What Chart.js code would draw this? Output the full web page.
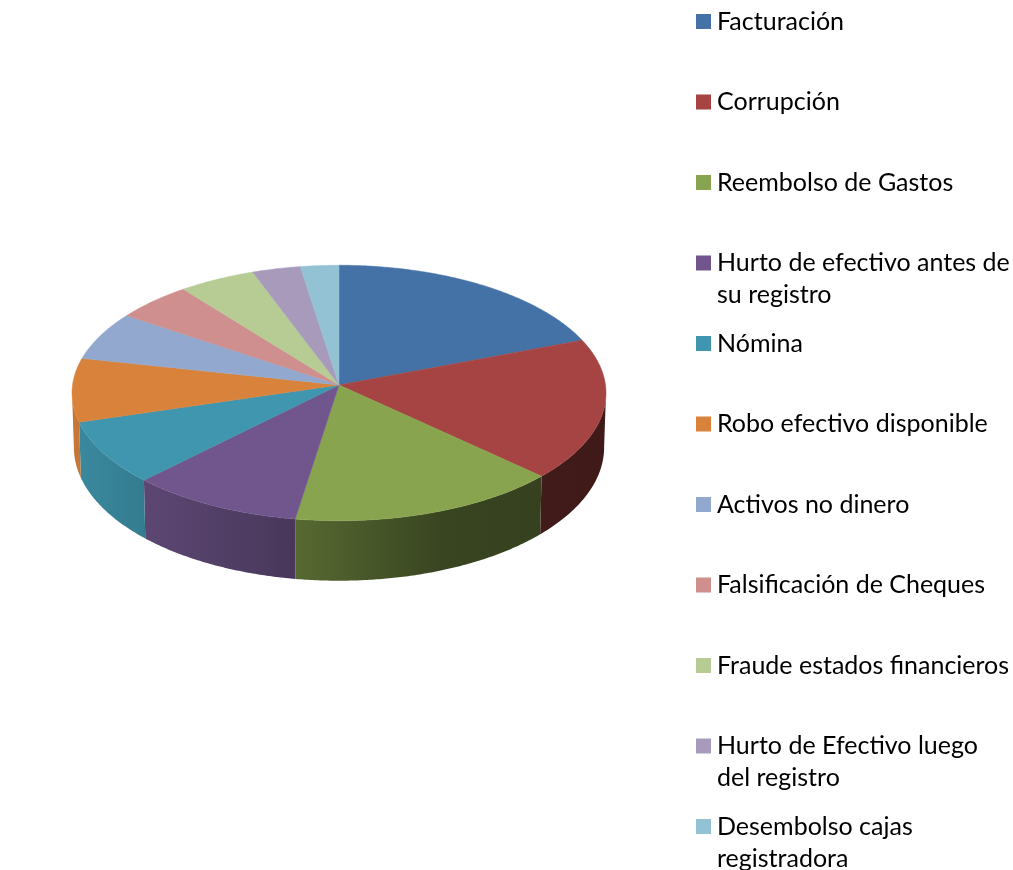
<!DOCTYPE html>
<html>
<head>
<meta charset="utf-8">
<script src="https://cdn.jsdelivr.net/npm/chart.js@4"></script>
<style>
    html, body { margin: 0; padding: 0; background: #fff; }
    canvas { display: block; }
</style>
</head>
<body>
<canvas id="pie-chart" width="1013" height="870"></canvas>
<script>
const categories = ["Facturación", "Corrupción", "Reembolso de Gastos", "Hurto de efectivo antes de su registro", "Nómina",
    "Robo efectivo disponible", "Activos no dinero", "Falsificación de Cheques", "Fraude estados financieros",
    "Hurto de Efectivo luego del registro", "Desembolso cajas registradora"];
const values = [38.8, 36.3, 31.3, 20, 16.3, 16.3, 12.5, 10, 10, 6.3, 5];
const valueLabels = ["38.80%", "36.30%", "31.30%", "20.00%", "16.30%", "16.30%", "12.50%", "10%", "10%", "6.30%", "5%"];
const colors = ["#4472a6", "#a54442", "#88a44e", "#70568c", "#4096ae", "#d8823c", "#92a8ce", "#ce8f8e", "#b7cc94", "#a89aba", "#92c2d3"];

// where excel left each label (centre of the text)
const labelSpots = [[439, 310], [547, 402], [404, 486], [243, 479], [127, 389], [153, 437], [51, 312], [126, 276], [194, 254], [262, 234], [319, 240]];

const FONT = '25px Lato';
const SQUASH = 127.5 / 267;   // tilt of the pie
const PERSP = 0.0625;         // near edge is drawn bigger than far edge

function project(el, a) {
    const u = Math.cos(a), v = Math.sin(a);
    const d = 1 - PERSP * v;
    const r = el.outerRadius * 0.998;
    return { x: el.x + r * u / d, y: el.y + r * SQUASH * v / d, v: v };
}

function shade(hex, f) {
    const n = parseInt(hex.slice(1), 16);
    const c = [n >> 16, (n >> 8) & 255, n & 255].map(x => Math.round(x * f));
    return `rgb(${c[0]},${c[1]},${c[2]})`;
}

// side wall gets darker from left to right across the whole pie
function wallGradient(ctx, el, hex) {
    const left = el.x - el.outerRadius, w = el.outerRadius * 2;
    const g = ctx.createLinearGradient(left, 0, left + w, 0);
    g.addColorStop(0, shade(hex, 0.92));
    g.addColorStop(0.135, shade(hex, 0.82));
    g.addColorStop(0.42, shade(hex, 0.64));
    g.addColorStop(0.69, shade(hex, 0.42));
    g.addColorStop(1, shade(hex, 0.38));
    return g;
}

const pie3d = {
    id: 'pie3d',
    beforeDatasetsDraw(chart) {
        const ctx = chart.ctx;
        const arcs = chart.getDatasetMeta(0).data;
        const widest = Math.asin(PERSP);
        const step = Math.PI / 360;

        arcs.forEach((el) => {
            const from = Math.max(el.startAngle, widest);
            const to = Math.min(el.endAngle, Math.PI - widest);
            if (from >= to) {
                return;
            }
            const top = [];
            for (let a = from; a < to; a += step) {
                top.push(project(el, a));
            }
            top.push(project(el, to));
            ctx.beginPath();
            top.forEach((p, i) => i ? ctx.lineTo(p.x, p.y) : ctx.moveTo(p.x, p.y));
            top.reverse().forEach((p) => {
                const x = el.x + (p.x - el.x) * 0.993;
                ctx.lineTo(x, p.y + 54 + 6 * p.v);
            });
            ctx.closePath();
            ctx.fillStyle = wallGradient(ctx, el, el.options.backgroundColor);
            ctx.fill();
        });

        arcs.forEach((el) => {
            ctx.beginPath();
            ctx.moveTo(el.x, el.y);
            for (let a = el.startAngle; a < el.endAngle; a += step) {
                const p = project(el, a);
                ctx.lineTo(p.x, p.y);
            }
            const end = project(el, el.endAngle);
            ctx.lineTo(end.x, end.y);
            ctx.closePath();
            ctx.fillStyle = el.options.backgroundColor;
            ctx.strokeStyle = el.options.backgroundColor;
            ctx.lineWidth = 0.5;
            ctx.fill();
            ctx.stroke();
        });
        return false;
    },
    afterDatasetsDraw(chart) {
        const ctx = chart.ctx;
        ctx.save();
        ctx.font = FONT;
        ctx.fillStyle = '#000';
        ctx.textAlign = 'center';
        ctx.textBaseline = 'middle';
        valueLabels.forEach((t, i) => ctx.fillText(t, labelSpots[i][0], labelSpots[i][1]));
        // leader line of the 6.30% label
        ctx.strokeStyle = '#000';
        ctx.lineWidth = 1.5;
        ctx.beginPath();
        ctx.moveTo(277, 252);
        ctx.lineTo(277, 268);
        ctx.stroke();
        ctx.restore();
    }
};

// the built-in legend cant wrap its labels, so it is written here
const wrappedLegend = {
    id: 'wrappedLegend',
    afterDraw(chart) {
        const ctx = chart.ctx;
        ctx.save();
        ctx.font = FONT;
        ctx.textBaseline = 'middle';
        categories.forEach((name, i) => {
            const y = 21.5 + 80.5 * i;
            ctx.fillStyle = colors[i];
            ctx.fillRect(696, y - 7.5, 15, 15);
            ctx.fillStyle = '#000';
            let line = '', row = 0;
            name.split(' ').forEach((word) => {
                const next = line ? line + ' ' + word : word;
                if (ctx.measureText(next).width > 297 && line) {
                    ctx.fillText(line, 717, y + 32 * row);
                    row++;
                    line = word;
                } else {
                    line = next;
                }
            });
            ctx.fillText(line, 717, y + 32 * row);
        });
        ctx.restore();
    }
};

new Chart(document.getElementById("pie-chart"), {
    type: 'pie',
    data: {
        labels: categories,
        datasets: [{ data: values, backgroundColor: colors, borderWidth: 0 }]
    },
    options: {
        responsive: false,
        animation: false,
        layout: { padding: { left: 72, right: 407, top: 118, bottom: 218 } },
        plugins: { legend: { display: false }, tooltip: { enabled: false } }
    },
    plugins: [pie3d, wrappedLegend]
});
</script>
</body>
</html>
